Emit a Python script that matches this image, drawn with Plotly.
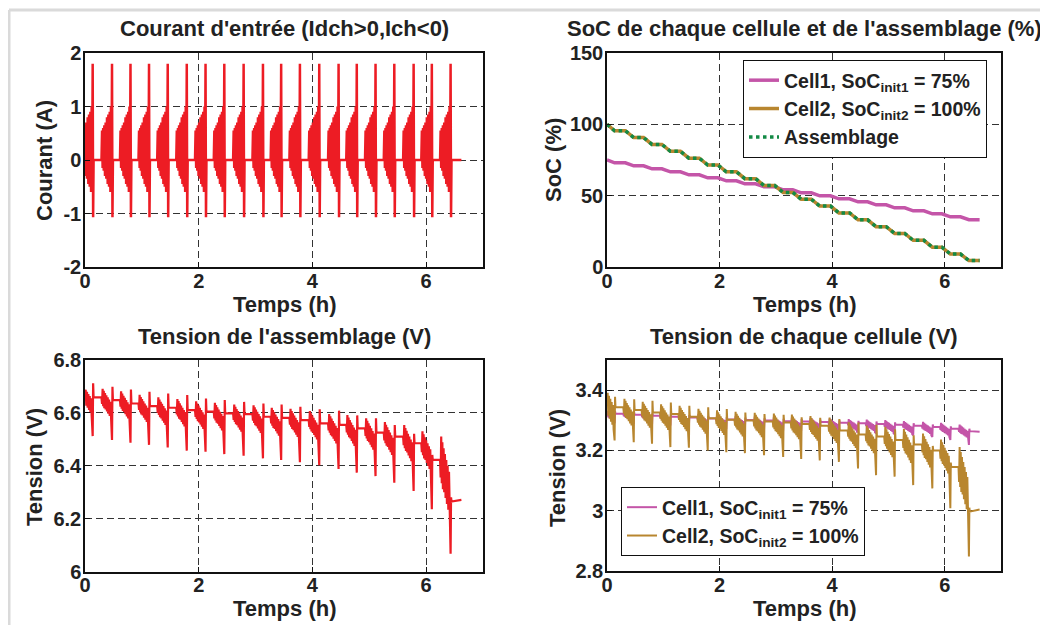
import plotly.graph_objects as go

# the page puts the plot 8 px in from the top-left corner
OFF = 8
W, H = 1048 - OFF, 625 - OFF
FONT = "Liberation Sans"

# instants of the big +1.8 A spike of each pulse (h)
pulse_t = [0.135, 0.475, 0.80, 1.126, 1.455, 1.79, 2.12, 2.45, 2.79, 3.13,
           3.45, 3.78, 4.12, 4.46, 4.78, 5.11, 5.44, 5.78, 6.10, 6.43]
t_end = 6.62

# one pulse (time relative to the spike, A)
band_dt = [-0.175, -0.165, -0.155, -0.145, -0.135, -0.123, -0.112, -0.100,
           -0.088, -0.076, -0.064, -0.052, -0.040, -0.028, -0.018]
band_cur = [0.55, -0.15, 0.6, -0.2, 0.65, -0.3, 0.7, -0.35,
            0.8, -0.45, 0.85, -0.5, 0.9, -0.6, 1.0]
# where the voltage sits inside the band (0 = rest before, 1 = bottom of band)
band_frac = [0.3, -0.4, 0.4, -0.3, 0.5, -0.2, 0.55, -0.1,
             0.65, 0.0, 0.75, 0.1, 0.85, 0.2, 1.0]
spike_dt = [0.0, 0.008, 0.016]
spike_cur = [1.8, -1.07, 0.0]

# assembly voltage (V)
vpack_start = 6.67
vpack_rest = [6.657, 6.647, 6.634, 6.624, 6.618, 6.609, 6.603, 6.597, 6.594, 6.584,
              6.58, 6.571, 6.559, 6.553, 6.54, 6.524, 6.509, 6.484, 6.421, 6.264]
vpack_low = [6.59, 6.575, 6.565, 6.552, 6.54, 6.535, 6.525, 6.52, 6.515, 6.51,
             6.5, 6.495, 6.485, 6.47, 6.46, 6.445, 6.425, 6.40, 6.37, 6.20]
vpack_dip = [6.511, 6.496, 6.486, 6.478, 6.468, 6.456, 6.452, 6.443, 6.437, 6.427,
             6.421, 6.412, 6.401, 6.387, 6.373, 6.36, 6.335, 6.304, 6.235, 6.067]
vpack_top = [6.71, 6.697, 6.687, 6.678, 6.672, 6.666, 6.653, 6.647, 6.64, 6.634,
             6.63, 6.622, 6.612, 6.607, 6.589, 6.578, 6.553, 6.52, 6.44, 6.28]
vpack_end = 6.27

# cell 1 voltage (V)
v1_start = 3.325
v1_rest = [3.322, 3.318, 3.315, 3.312, 3.309, 3.306, 3.303, 3.301, 3.299, 3.297,
           3.296, 3.294, 3.292, 3.29, 3.288, 3.285, 3.282, 3.278, 3.272, 3.264]
v1_low = [3.297, 3.293, 3.29, 3.287, 3.284, 3.281, 3.278, 3.275, 3.273, 3.271,
          3.268, 3.266, 3.264, 3.262, 3.26, 3.257, 3.254, 3.25, 3.245, 3.238]
v1_dip = [3.29, 3.288, 3.285, 3.283, 3.28, 3.278, 3.276, 3.274, 3.272, 3.27,
          3.268, 3.266, 3.264, 3.262, 3.258, 3.254, 3.25, 3.245, 3.235, 3.218]
v1_top = [3.33, 3.326, 3.323, 3.32, 3.317, 3.314, 3.311, 3.309, 3.307, 3.305,
          3.304, 3.302, 3.3, 3.298, 3.296, 3.293, 3.29, 3.286, 3.28, 3.272]
v1_end = 3.262

# cell 2 voltage (V)
v2_start = 3.371
v2_rest = [3.343, 3.334, 3.326, 3.321, 3.312, 3.307, 3.302, 3.299, 3.296, 3.293,
           3.288, 3.282, 3.266, 3.253, 3.246, 3.235, 3.22, 3.2, 3.145, 2.997]
v2_low = [3.27, 3.272, 3.265, 3.258, 3.254, 3.246, 3.242, 3.237, 3.234, 3.231,
          3.227, 3.222, 3.215, 3.198, 3.18, 3.165, 3.145, 3.13, 3.11, 2.98]
v2_dip = [3.233, 3.227, 3.222, 3.211, 3.209, 3.2, 3.194, 3.191, 3.184, 3.178,
          3.172, 3.167, 3.162, 3.14, 3.118, 3.113, 3.085, 3.074, 3.008, 2.848]
v2_top = [3.378, 3.37, 3.365, 3.359, 3.348, 3.343, 3.337, 3.326, 3.321, 3.318,
          3.31, 3.308, 3.304, 3.293, 3.285, 3.27, 3.25, 3.215, 3.16, 3.01]
v2_end = 3.004

# SoC levels (%) before the first pulse and after each pulse
soc_cell1 = [75.0, 73.0, 70.9, 68.8, 66.7, 64.6, 62.5, 60.4, 58.3, 56.2, 54.1,
             52.0, 49.9, 47.8, 45.7, 43.6, 41.5, 39.4, 37.3, 35.2, 33.2]
soc_cell2 = [100.0, 95.5, 90.7, 85.9, 81.1, 76.3, 71.5, 66.7, 61.9, 57.1, 52.3,
             47.5, 42.7, 37.9, 33.1, 28.3, 23.5, 18.7, 13.9, 9.1, 4.5]
soc_pack = [100.0, 95.5, 90.7, 85.9, 81.1, 76.3, 71.5, 66.7, 61.9, 57.1, 52.3,
            47.5, 42.7, 37.9, 33.1, 28.3, 23.5, 18.7, 13.9, 9.1, 4.5]

RED = "#ED1C24"
MAGENTA = "#C455A8"
BROWN = "#B8862F"
GREEN = "#138A45"


def current_wave():
  t, i = [0.0], [0.0]
  for tp in pulse_t:
    if tp - 0.185 > 0:
      t.append(tp - 0.185); i.append(0.0)
    for dt, c in zip(band_dt, band_cur):
      if tp + dt > 0:
        t.append(tp + dt); i.append(c)
    t.append(tp - 0.008); i.append(0.0)
    for dt, c in zip(spike_dt, spike_cur):
      t.append(tp + dt); i.append(c)
  t.append(t_end); i.append(0.0)
  return t, i


def voltage_wave(start, rest, low, dip, top, end):
  t, v = [0.0], [start]
  prev = start
  for k, tp in enumerate(pulse_t):
    if tp - 0.185 > 0:
      t.append(tp - 0.185); v.append(prev)
    for dt, f in zip(band_dt, band_frac):
      if tp + dt > 0:
        t.append(tp + dt); v.append(prev + f * (low[k] - prev))
    for dt, val in zip(spike_dt, [dip[k], top[k], rest[k]]):
      t.append(tp + dt); v.append(val)
    prev = rest[k]
  t.append(t_end); v.append(end)
  return t, v


def soc_steps(levels):
  t, s = [0.0], [levels[0]]
  for k, tp in enumerate(pulse_t):
    if tp - 0.15 > 0:
      t.append(tp - 0.15); s.append(levels[k])
    t.append(tp); s.append(levels[k + 1])
  t.append(t_end); s.append(levels[-1])
  return t, s


# positions below are read in the reference picture, then moved by OFF
def dom_x(left, right):
  return [(left - OFF) / W, (right - OFF) / W]


def dom_y(top, bottom):
  return [1 - (bottom - OFF) / H, 1 - (top - OFF) / H]


def px(x, y):
  return (x - OFF) / W, 1 - (y - OFF) / H


fig = go.Figure()

t, i = current_wave()
fig.add_trace(go.Scatter(x=t, y=i, mode="lines", line=dict(color=RED, width=2.5),
                         showlegend=False, xaxis="x", yaxis="y"))

for levels, name, color in [(soc_cell1, "Cell1, SoC<sub>init1</sub> = 75%", MAGENTA),
                            (soc_cell2, "Cell2, SoC<sub>init2</sub> = 100%", BROWN)]:
  t, s = soc_steps(levels)
  fig.add_trace(go.Scatter(x=t, y=s, mode="lines", name=name, line=dict(color=color, width=3.5),
                           legend="legend", xaxis="x2", yaxis="y2"))
t, s = soc_steps(soc_pack)
fig.add_trace(go.Scatter(x=t, y=s, mode="lines", name="Assemblage",
                         line=dict(color=GREEN, width=3.5, dash="dot"),
                         legend="legend", xaxis="x2", yaxis="y2"))

t, v = voltage_wave(vpack_start, vpack_rest, vpack_low, vpack_dip, vpack_top, vpack_end)
fig.add_trace(go.Scatter(x=t, y=v, mode="lines", line=dict(color=RED, width=2.2),
                         showlegend=False, xaxis="x3", yaxis="y3"))

t, v = voltage_wave(v1_start, v1_rest, v1_low, v1_dip, v1_top, v1_end)
fig.add_trace(go.Scatter(x=t, y=v, mode="lines", name="Cell1, SoC<sub>init1</sub> = 75%",
                         line=dict(color=MAGENTA, width=2), legend="legend2",
                         xaxis="x4", yaxis="y4"))
t, v = voltage_wave(v2_start, v2_rest, v2_low, v2_dip, v2_top, v2_end)
fig.add_trace(go.Scatter(x=t, y=v, mode="lines", name="Cell2, SoC<sub>init2</sub> = 100%",
                         line=dict(color=BROWN, width=2), legend="legend2",
                         xaxis="x4", yaxis="y4"))

tick_font = dict(family=FONT, size=20, color="#222", weight="bold")
common = dict(showline=True, linecolor="#111", linewidth=1.5, mirror=True,
              ticks="inside", ticklen=5, tickcolor="#111", showgrid=True,
              gridcolor="#333", gridwidth=1, griddash="7px,4px", zeroline=False,
              tickfont=tick_font, automargin=False)

panels = [
  ("", (85, 483), (53, 267), [-2, 2], [-2, -1, 0, 1, 2]),
  ("2", (607, 1001), (53, 267), [0, 150], [0, 50, 100, 150]),
  ("3", (85, 483), (359.5, 571.5), [6, 6.8], [6, 6.2, 6.4, 6.6, 6.8]),
  ("4", (607, 1001), (360, 571), [2.8, 3.5], [2.8, 3, 3.2, 3.4]),
]
for n, (l, r), (top, bot), yr, yt in panels:
  fig.layout["xaxis" + n] = dict(common, domain=dom_x(l, r), range=[0, 7],
                                 tickvals=[0, 2, 4, 6], anchor="y" + n,
                                 ticklabelstandoff=-5)
  fig.layout["yaxis" + n] = dict(common, domain=dom_y(top, bot), range=yr,
                                 tickvals=yt, ticktext=[str(v) for v in yt],
                                 anchor="x" + n, ticklabelstandoff=-2)

texts = [
  ("Courant d'entrée (Idch>0,Ich<0)", 284, 29, 0, 22),
  ("SoC de chaque cellule et de l'assemblage (%)", 804, 29, 0, 22),
  ("Tension de l'assemblage (V)", 284, 336, 0, 22),
  ("Tension de chaque cellule (V)", 804, 336, 0, 22),
  ("Temps (h)", 284, 304, 0, 22),
  ("Temps (h)", 804, 304, 0, 22),
  ("Temps (h)", 284, 608, 0, 22),
  ("Temps (h)", 804, 608, 0, 22),
  ("Courant (A)", 44, 161, -90, 22),
  ("SoC (%)", 553, 160, -90, 22),
  ("Tension (V)", 34, 467, -90, 22),
  ("Tension (V)", 557, 468, -90, 22),
]
annotations = []
for txt, x, y, ang, size in texts:
  ax, ay = px(x, y)
  annotations.append(dict(text=txt, x=ax, y=ay, xref="paper", yref="paper",
                          xanchor="center", yanchor="middle", showarrow=False,
                          textangle=ang, font=dict(family=FONT, size=size, color="#222",
                                                   weight="bold")))

legend_style = dict(bgcolor="white", bordercolor="#111", borderwidth=1,
                    font=dict(family=FONT, size=19.5, color="#222", weight="bold"),
                    xanchor="left", yanchor="top", tracegroupgap=0)

lx1, ly1 = px(743, 60)
lx2, ly2 = px(621, 487)
fx, fy = px(9, 10)

fig.update_layout(
  width=W, height=H,
  margin=dict(l=0, r=0, t=0, b=0),
  paper_bgcolor="white", plot_bgcolor="white",
  annotations=annotations,
  legend=dict(legend_style, x=lx1, y=ly1),
  legend2=dict(legend_style, x=lx2, y=ly2),
  shapes=[
    dict(type="line", xref="paper", yref="paper", x0=fx, x1=1, y0=fy, y1=fy,
         line=dict(color="#DADADA", width=3)),
    dict(type="line", xref="paper", yref="paper", x0=fx, x1=fx, y0=0, y1=fy,
         line=dict(color="#DADADA", width=3)),
  ],
)

fig.write_html("out.html")
